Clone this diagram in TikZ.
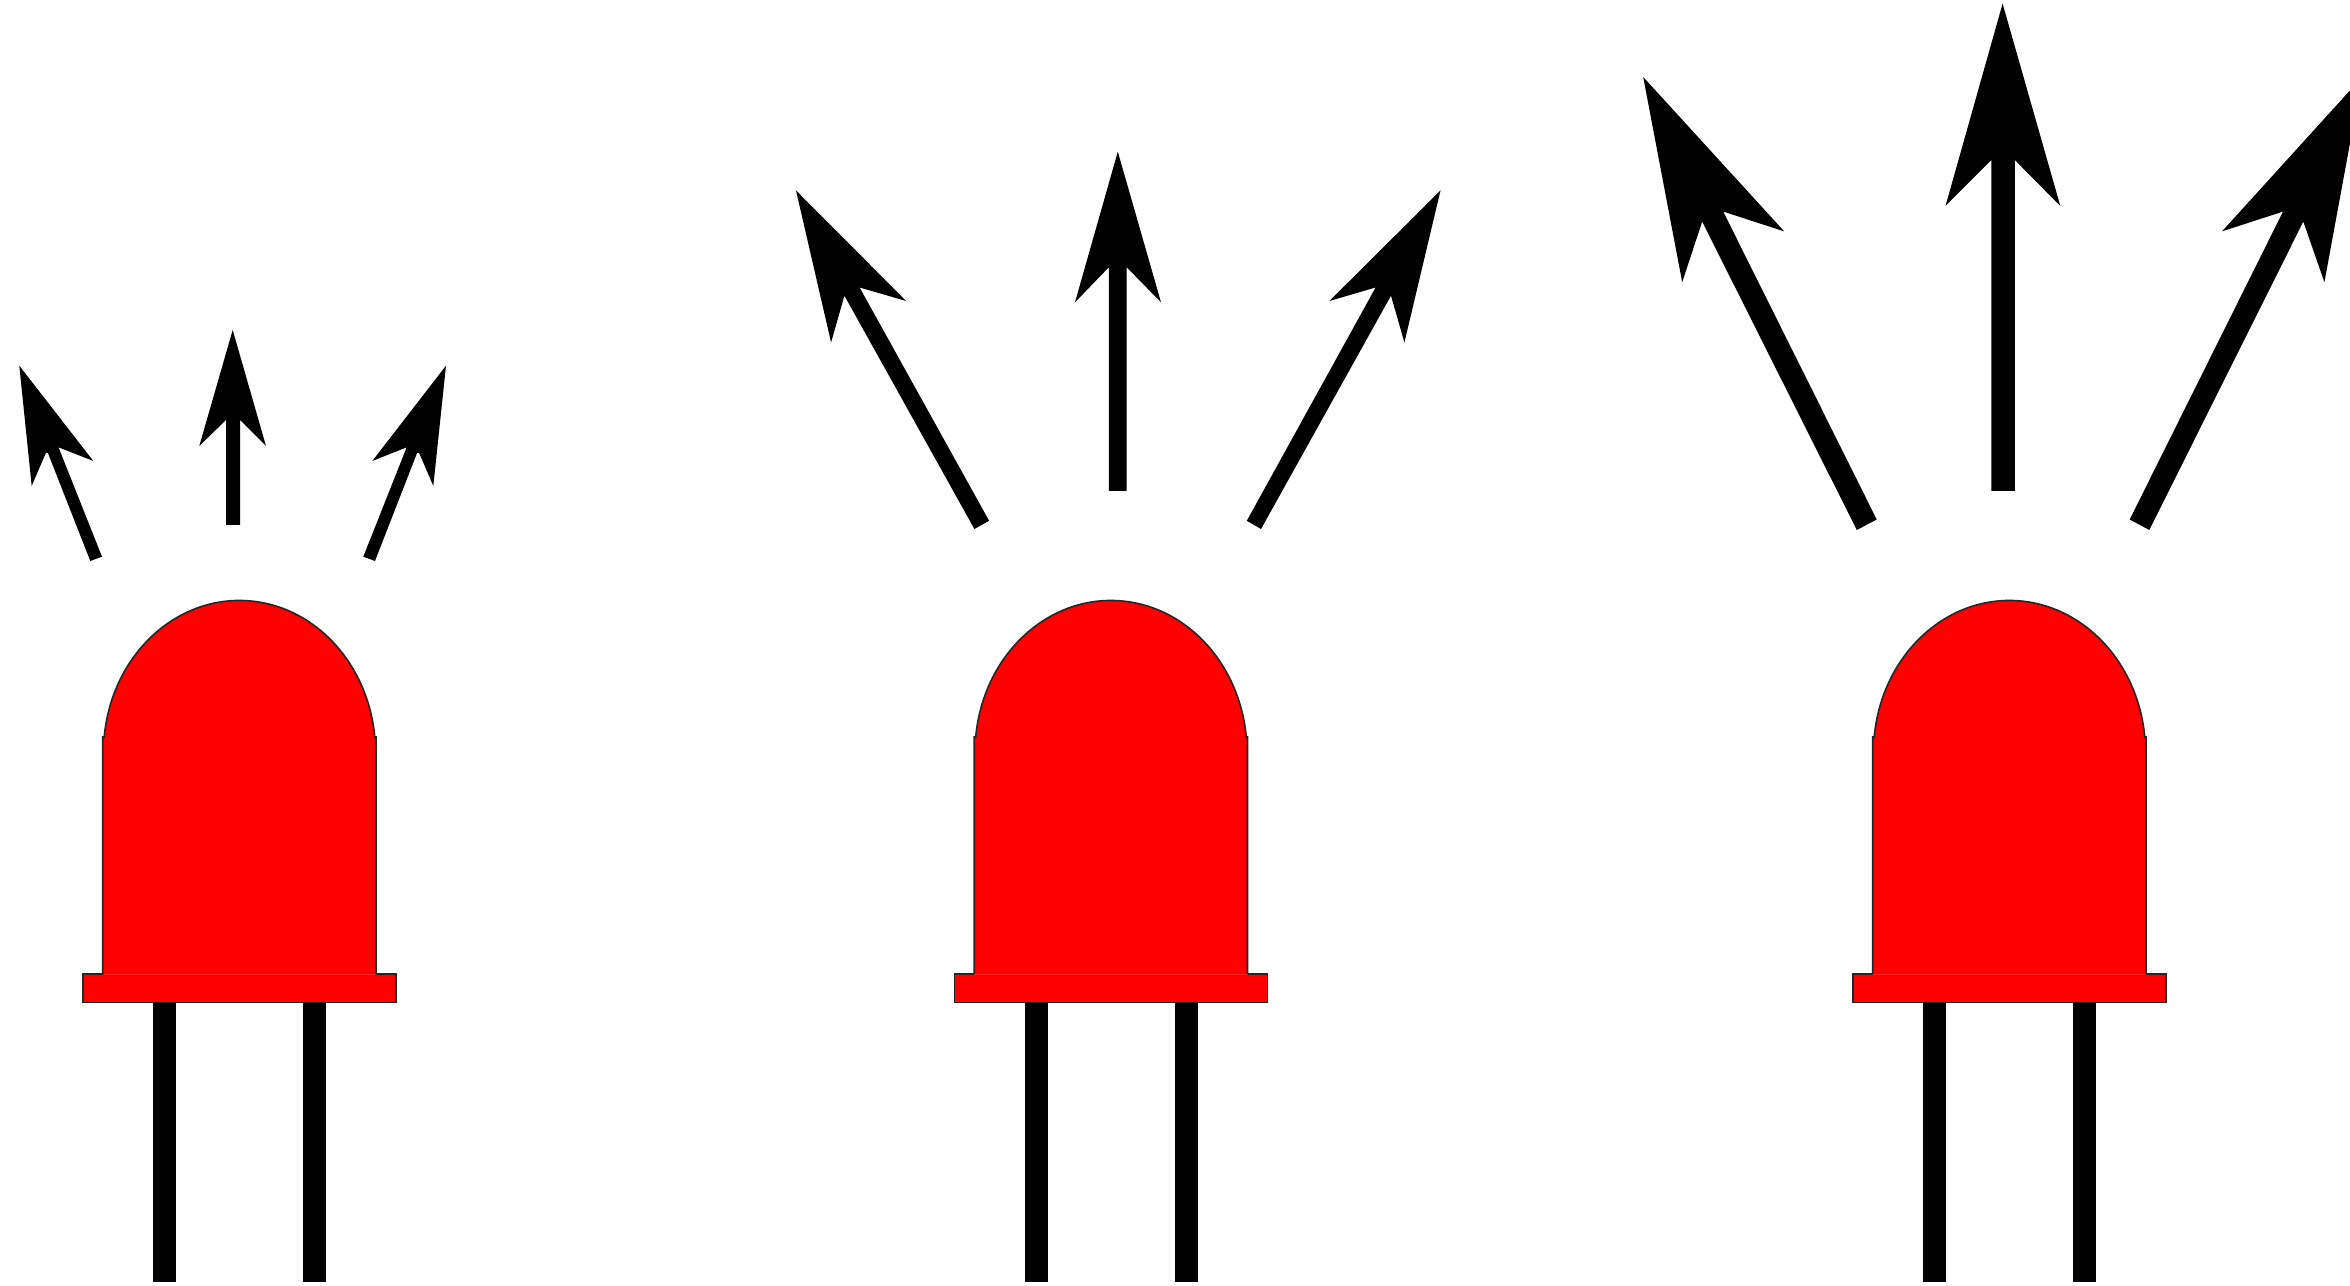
\documentclass[tikz,border=0pt]{standalone}
\tikzset{
  ledred/.style={fill=red},
  ledline/.style={draw=black!85,line width=0.016cm,line join=miter},
  leadwire/.style={fill=black},
  rayshape/.style={fill=black},
  led/.pic={
    \fill[leadwire] (153.3,1000) rectangle (176.3,1281.7);
    \fill[leadwire] (303,1000) rectangle (326,1281.7);
    \path[ledred,ledline] (83,974) rectangle (396,1002.7);
    \fill[ledred] (102.7,975) -- (102.7,737) -- (104.2,737)
      arc[start angle=185.85,end angle=354.15,x radius=136,y radius=152]
      -- (376,737) -- (376,975) -- cycle;
    \draw[ledline] (102.7,974) -- (102.7,737) -- (104.2,737)
      arc[start angle=185.85,end angle=354.15,x radius=136,y radius=152]
      -- (376,737) -- (376,974);
    \draw[red!85!white,line width=0.008cm] (103.5,974) -- (375.2,974);
  }
}
\begin{document}
\begin{tikzpicture}[x=0.01cm,y=-0.01cm]
\useasboundingbox (0,0) rectangle (2350,1286);
\clip (0,0) rectangle (2350,1286);
\fill[white] (0,0) rectangle (2350,1286);
% LEDs
\pic at (0,0) {led};
\pic at (871.5,0) {led};
\pic at (1770,0) {led};
% small rays
\fill[rayshape] (19.3,365.7) -- (31.7,486) -- (45.7,453.3) -- (47.8,452.7) -- (90.3,561) -- (102,556.7) -- (58.5,447.3) -- (93.3,461) -- cycle;
\fill[rayshape] (232.7,330) -- (199.3,446) -- (226,420) -- (226,525) -- (240,525) -- (240,420) -- (266,446) -- cycle;
\fill[rayshape] (446,365.7) -- (433.3,486) -- (419.3,453.3) -- (417.2,452.7) -- (375,561) -- (363.3,556.7) -- (406.7,447.3) -- (372.3,461) -- cycle;
% medium rays
\fill[rayshape] (796,190.5) -- (831.1,342.5) -- (844.4,295.7) -- (974.4,529) -- (989.1,520.8) -- (859.6,287.5) -- (906.1,301) -- cycle;
\fill[rayshape] (1117.8,151.7) -- (1075,302.3) -- (1108.8,267.3) -- (1108.8,491) -- (1126.7,491) -- (1126.7,267.3) -- (1161,302.3) -- cycle;
\fill[rayshape] (1440.5,190.5) -- (1404.4,342.5) -- (1391,295.7) -- (1261,529) -- (1246.8,520.8) -- (1375.6,287.5) -- (1329.4,301) -- cycle;
% large rays
\fill[rayshape] (1643.2,77) -- (1682.2,282.2) -- (1702.2,221.6) -- (1856.8,530) -- (1876.7,519.5) -- (1723.2,211.6) -- (1784.2,231.4) -- cycle;
\fill[rayshape] (2002.6,3.6) -- (1945.5,206) -- (1991.4,160) -- (1991.4,491) -- (2014.8,491) -- (2014.8,160) -- (2060.3,206) -- cycle;
\fill[rayshape] (2362.2,77) -- (2324.4,282.2) -- (2303.3,221.6) -- (2149.3,530) -- (2129.7,519.5) -- (2283,211.6) -- (2222,231.4) -- cycle;
\end{tikzpicture}
\end{document}
